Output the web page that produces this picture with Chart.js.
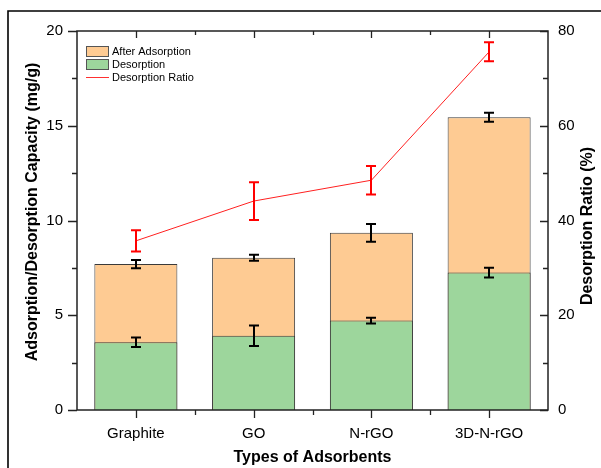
<!DOCTYPE html>
<html>
<head>
<meta charset="utf-8">
<script src="https://cdn.jsdelivr.net/npm/chart.js@4.4.0/dist/chart.umd.min.js"></script>
<style>
html,body{margin:0;padding:0;background:#fff;}
#wrap{width:601px;height:468px;position:relative;}
</style>
</head>
<body>
<div id="wrap"><canvas id="c" width="601" height="468"></canvas></div>
<script>
const categories = ['Graphite', 'GO', 'N-rGO', '3D-N-rGO'];
const afterAdsorption = [7.70, 8.03, 9.35, 15.45];
const afterAdsorptionErr = [0.22, 0.16, 0.47, 0.24];
const desorption = [3.58, 3.92, 4.72, 7.25];
const desorptionErr = [0.25, 0.54, 0.15, 0.26];
const desorptionRatio = [35.7, 44.1, 48.5, 75.6];
const desorptionRatioErr = [2.25, 4.0, 3.0, 2.0];
const leftTicks = [0, 5, 10, 15, 20];
const rightTicks = [0, 20, 40, 60, 80];

const FONT = "'Liberation Sans', Arial, sans-serif";
const ORANGE = '#fecb93';
const GREEN = '#9dd69c';

const errorBars = {
  id: 'errorBars',
  afterDatasetsDraw(chart) {
    const ctx = chart.ctx;
    const x = chart.scales.x;
    const sets = [
      {vals: afterAdsorption, err: afterAdsorptionErr, axis: 'y', color: '#000', w: 10},
      {vals: desorption, err: desorptionErr, axis: 'y', color: '#000', w: 10},
      {vals: desorptionRatio, err: desorptionRatioErr, axis: 'y1', color: '#ff0000', w: 10}
    ];
    ctx.save();
    ctx.lineWidth = 2;
    sets.forEach(s => {
      const sc = chart.scales[s.axis];
      ctx.strokeStyle = s.color;
      s.vals.forEach((v, i) => {
        const px = Math.round(x.getPixelForValue(i));
        const yt = sc.getPixelForValue(v + s.err[i]);
        const yb = sc.getPixelForValue(v - s.err[i]);
        ctx.beginPath();
        ctx.moveTo(px, yt); ctx.lineTo(px, yb);
        ctx.moveTo(px - s.w / 2, yt); ctx.lineTo(px + s.w / 2, yt);
        ctx.moveTo(px - s.w / 2, yb); ctx.lineTo(px + s.w / 2, yb);
        ctx.stroke();
      });
    });
    ctx.restore();
  }
};

const decor = {
  id: 'decor',
  afterDraw(chart) {
    const ctx = chart.ctx;
    const a = chart.chartArea;
    const x = chart.scales.x, y = chart.scales.y, y1 = chart.scales.y1;
    ctx.save();
    // outer frame
    ctx.strokeStyle = '#000';
    ctx.lineWidth = 1.6;
    ctx.beginPath();
    ctx.moveTo(8, 468); ctx.lineTo(8, 11); ctx.lineTo(601, 11);
    ctx.stroke();
    // plot box
    ctx.strokeStyle = '#222';
    ctx.lineWidth = 1.5;
    ctx.strokeRect(a.left, a.top, a.right - a.left, a.bottom - a.top);
    ctx.lineWidth = 1.3;
    ctx.beginPath();
    // left ticks (outward)
    for (let v = 0; v <= 20; v += 2.5) {
      const py = Math.round(y.getPixelForValue(v)) + 0.5;
      const len = (v % 5 === 0) ? 9 : 5;
      ctx.moveTo(a.left - len, py); ctx.lineTo(a.left, py);
    }
    // right ticks (inward)
    for (let v = 0; v <= 80; v += 10) {
      const py = Math.round(y1.getPixelForValue(v)) + 0.5;
      const len = (v % 20 === 0) ? 8 : 5;
      ctx.moveTo(a.right - len, py); ctx.lineTo(a.right, py);
    }
    // bottom (outward) and top (inward) ticks
    for (let i = 0; i < categories.length; i++) {
      const px = Math.round(x.getPixelForValue(i)) + 0.5;
      ctx.moveTo(px, a.bottom); ctx.lineTo(px, a.bottom + 8);
      ctx.moveTo(px, a.top); ctx.lineTo(px, a.top + 7);
      if (i > 0) {
        const mx = Math.round((x.getPixelForValue(i) + x.getPixelForValue(i - 1)) / 2) + 0.5;
        ctx.moveTo(mx, a.bottom); ctx.lineTo(mx, a.bottom + 5);
        ctx.moveTo(mx, a.top); ctx.lineTo(mx, a.top + 4);
      }
    }
    ctx.stroke();

    // axis titles
    ctx.fillStyle = '#000';
    ctx.font = "bold 16px " + FONT;
    ctx.textAlign = 'center';
    ctx.textBaseline = 'middle';
    ctx.fillText('Types of Adsorbents', (a.left + a.right) / 2, 458);
    ctx.save();
    ctx.translate(33, 212);
    ctx.rotate(-Math.PI / 2);
    ctx.fillText('Adsorption/Desorption Capacity (mg/g)', 0, 0);
    ctx.restore();
    ctx.save();
    ctx.translate(588, 226);
    ctx.rotate(-Math.PI / 2);
    ctx.fillText('Desorption Ratio (%)', 0, 0);
    ctx.restore();

    // legend
    ctx.font = "11px " + FONT;
    ctx.textAlign = 'left';
    ctx.lineWidth = 1;
    ctx.fillStyle = ORANGE;
    ctx.fillRect(86, 46, 23, 11);
    ctx.strokeStyle = '#555';
    ctx.strokeRect(86.5, 46.5, 22, 10);
    ctx.fillStyle = GREEN;
    ctx.fillRect(86, 59, 23, 11);
    ctx.strokeRect(86.5, 59.5, 22, 10);
    ctx.strokeStyle = '#ff3030';
    ctx.beginPath();
    ctx.moveTo(86, 77.5); ctx.lineTo(109, 77.5);
    ctx.stroke();
    ctx.fillStyle = '#000';
    ctx.fillText('After Adsorption', 112, 51.5);
    ctx.fillText('Desorption', 112, 64.5);
    ctx.fillText('Desorption Ratio', 112, 78);
    ctx.restore();
  }
};

new Chart(document.getElementById('c'), {
  data: {
    labels: categories,
    datasets: [
      {type: 'bar', label: 'After Adsorption', data: afterAdsorption, yAxisID: 'y', order: 2,
       backgroundColor: ORANGE, borderColor: '#3a3a3a', borderWidth: 1, grouped: false,
       barPercentage: 0.705, categoryPercentage: 1},
      {type: 'bar', label: 'Desorption', data: desorption, yAxisID: 'y', order: 1,
       backgroundColor: GREEN, borderColor: '#3a3a3a', borderWidth: 1, grouped: false,
       barPercentage: 0.705, categoryPercentage: 1},
      {type: 'line', label: 'Desorption Ratio', data: desorptionRatio, yAxisID: 'y1', order: 0,
       borderColor: '#ff2020', borderWidth: 1, pointRadius: 0, fill: false, tension: 0}
    ]
  },
  options: {
    responsive: false,
    animation: false,
    layout: {padding: {top: 31, left: 0, right: 0, bottom: 0}},
    plugins: {legend: {display: false}, tooltip: {enabled: false}},
    scales: {
      x: {
        type: 'category', offset: true,
        grid: {display: false, drawTicks: false},
        border: {display: false},
        ticks: {font: {family: FONT, size: 15}, color: '#000', padding: 15, maxRotation: 0},
        afterFit(s) { s.height = 58; }
      },
      y: {
        type: 'linear', position: 'left', min: 0, max: 20,
        grid: {display: false, drawTicks: false},
        border: {display: false},
        afterBuildTicks(s) { s.ticks = leftTicks.map(v => ({value: v})); },
        ticks: {font: {family: FONT, size: 15}, color: '#000', padding: 14},
        afterFit(s) { s.width = 77; }
      },
      y1: {
        type: 'linear', position: 'right', min: 0, max: 80,
        grid: {display: false, drawTicks: false},
        border: {display: false},
        afterBuildTicks(s) { s.ticks = rightTicks.map(v => ({value: v})); },
        ticks: {font: {family: FONT, size: 15}, color: '#000', padding: 10},
        afterFit(s) { s.width = 53; }
      }
    }
  },
  plugins: [errorBars, decor]
});
</script>
</body>
</html>
